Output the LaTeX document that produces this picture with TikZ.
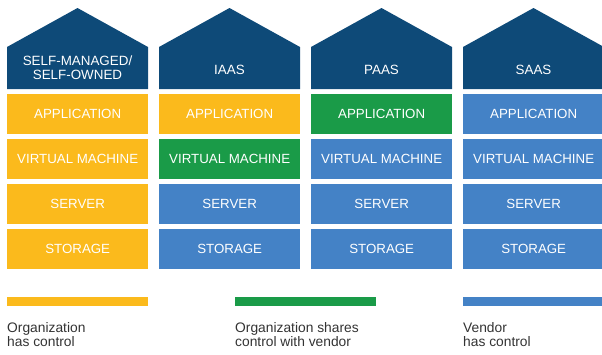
\documentclass[tikz,border=0pt]{standalone}
\usepackage{fontspec}
\setmainfont{Liberation Sans}
\definecolor{navyc}{HTML}{0E4A78}
\definecolor{yellowc}{HTML}{FBBA1C}
\definecolor{greenc}{HTML}{1A9B48}
\definecolor{bluec}{HTML}{4482C6}
\definecolor{legendtext}{HTML}{333333}
\begin{document}
\begin{tikzpicture}[x=1pt,y=-1pt,
  layer/.style={fill=#1, text=white, minimum width=141pt, minimum height=40pt,
    inner sep=0pt, anchor=north west, font=\fontsize{13.3}{14}\selectfont},
  roof/.style={fill=navyc},
  headtext/.style={text=white, align=center, inner sep=0pt, font=\fontsize{13.4}{14}\selectfont},
  legendbar/.style={fill=#1, minimum width=141pt, minimum height=9pt, inner sep=0pt, anchor=north west},
  legendlabel/.style={text=legendtext, align=left, inner sep=0pt, anchor=north west, font=\fontsize{13.8}{14.8}\selectfont}]
\path[use as bounding box] (0,0) rectangle (602,354);
\clip (0,0) rectangle (602,354);
% roofs / headers
\foreach \x/\lab/\nm/\ty in {7/{SELF-MANAGED/\\SELF-OWNED}/h1/67.3, 159/IAAS/h2/69.5, 311/PAAS/h3/69.5, 463/SAAS/h4/69.5}{
  \fill[roof] (\x,89) -- (\x,47) -- (\x+70.5,8) -- (\x+141,47) -- (\x+141,89) -- cycle;
  \node[headtext] (\nm) at (\x+70.5,\ty) {\lab};
}
% layers
\foreach \x/\ca/\cb/\cc/\cd/\i in {7/yellowc/yellowc/yellowc/yellowc/1,
  159/yellowc/greenc/bluec/bluec/2,
  311/greenc/bluec/bluec/bluec/3,
  463/bluec/bluec/bluec/bluec/4}{
  \node[layer=\ca] (app\i) at (\x,94) {APPLICATION};
  \node[layer=\cb] (vm\i) at (\x,139) {VIRTUAL MACHINE};
  \node[layer=\cc] (srv\i) at (\x,184) {SERVER};
  \node[layer=\cd] (sto\i) at (\x,229) {STORAGE};
}
% legend
\node[legendbar=yellowc] (bar1) at (7,297) {};
\node[legendbar=greenc] (bar2) at (235,297) {};
\node[legendbar=bluec] (bar3) at (463,297) {};
\node[legendlabel] (leg1) at (7,321.8) {Organization\\has control};
\node[legendlabel] (leg2) at (235,321.8) {Organization shares\\control with vendor};
\node[legendlabel] (leg3) at (463,321.8) {Vendor\\has control};
\end{tikzpicture}
\end{document}
